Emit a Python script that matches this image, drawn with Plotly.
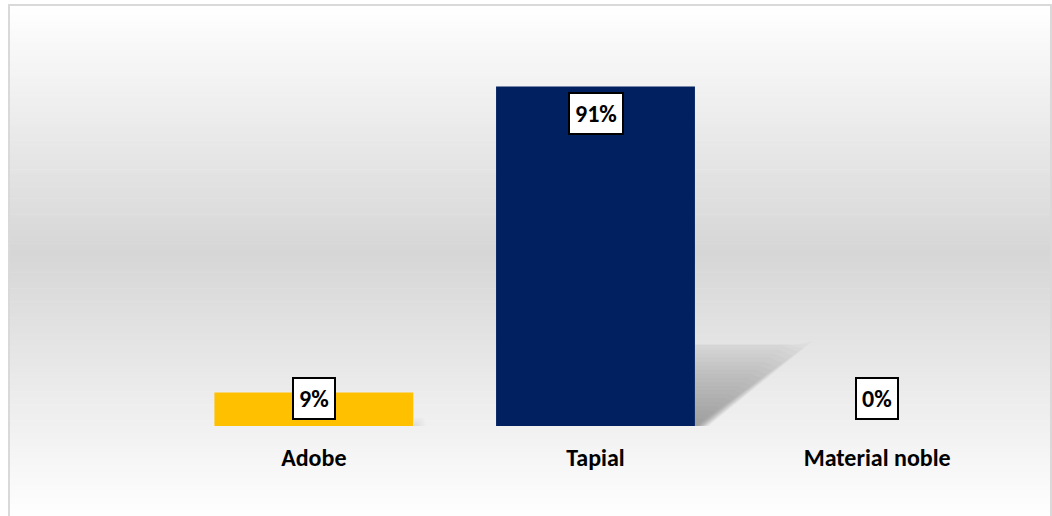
import plotly.graph_objects as go

categories = ["Adobe", "Tapial", "Material noble"]
values = [0.09, 0.91, 0.00]
labels = ["9%", "91%", "0%"]
colors = ["#FFC000", "#002060", "#002060"]

W, H = 1052, 516
ML, MR, MT, MB = 173, 34, 53, 90
PW, PH = W - ML - MR, H - MT - MB

def px(x):
    return (x - ML) / PW

def py(y):
    return (H - MB - y) / PH

FONT = "Carlito, Calibri, Lato, 'Open Sans', sans-serif"

fig = go.Figure()
fig.add_trace(go.Bar(
    x=categories, y=values, marker=dict(color=colors, line=dict(width=0)),
    width=0.706, hoverinfo="skip", showlegend=False,
))

shapes = []
# background gradient (white -> grey -> white)
top, bot = 5, 520
n = 160
def grad(t):
    c0, cm = 255, 214
    mid = 0.48
    f = t / mid if t < mid else (1 - t) / (1 - mid)
    return int(round(c0 - (c0 - cm) * f))
for i in range(n):
    y0 = top + (bot - top) * i / n
    y1 = top + (bot - top) * (i + 1) / n + 0.6
    v = grad((i + 0.5) / n)
    shapes.append(dict(type="rect", xref="paper", yref="paper", layer="below",
                       x0=px(9), x1=px(1051), y0=py(y1), y1=py(y0),
                       fillcolor=f"rgb({v},{v},{v})", line=dict(width=0)))

# soft perspective shadows behind bars
base = H - MB
for i, v in enumerate(values):
    if v <= 0:
        continue
    xc = ML + PW * (i + 0.5) / len(values)
    right = xc + 0.706 * PW / len(values) / 2
    hpx = v * PH
    sh = 0.24 * hpx
    reach = 104 * (hpx / 339)
    strength = 1.0 if hpx > 100 else 0.35
    layers = 22
    for k in range(layers):
        s = 1.14 - 0.05 * k
        pts = [(right, base), (right, base - sh * min(s, 1.0)),
               (right + reach * s * 0.85, base - sh * min(s, 1.0)),
               (right + reach * s, base - sh * s * 0.92),
               (right + 2 + 12 * (1 - k / layers), base)]
        path = "M " + " L ".join(f"{px(x)},{py(y)}" for x, y in pts) + " Z"
        shapes.append(dict(type="path", xref="paper", yref="paper", layer="below",
                           path=path, fillcolor=f"rgba(0,0,0,{0.015 * strength:.4f})",
                           line=dict(width=0)))

# outer border
shapes.append(dict(type="rect", xref="paper", yref="paper", layer="above",
                   x0=px(9), x1=px(1051), y0=py(522), y1=py(5),
                   fillcolor="rgba(0,0,0,0)", line=dict(color="#d9d9d9", width=2)))

annotations = []
for c, v, t in zip(categories, values, labels):
    yc = max(v - 0.072, 0.074)
    annotations.append(dict(x=c, y=yc, xref="x", yref="y", text=t, showarrow=False,
                            font=dict(family=FONT, size=24, color="#000000", weight="bold"),
                            bgcolor="#ffffff", bordercolor="#000000", borderwidth=2,
                            borderpad=5, yanchor="middle", xanchor="center"))

fig.update_layout(
    width=W, height=H,
    margin=dict(l=ML, r=MR, t=MT, b=MB),
    paper_bgcolor="#ffffff", plot_bgcolor="rgba(0,0,0,0)",
    shapes=shapes, annotations=annotations,
    bargap=0.294,
    xaxis=dict(showgrid=False, zeroline=False, showline=False, ticks="outside",
               ticklen=10, tickcolor="rgba(0,0,0,0)",
               tickfont=dict(family=FONT, size=24, color="#000000", weight="bold")),
    yaxis=dict(range=[0, 1], visible=False, showgrid=False, zeroline=False),
    font=dict(family=FONT),
)

fig.write_html("out.html", config={"displayModeBar": False},
               post_script="document.body.style.margin='0px';document.body.style.overflow='hidden';")
